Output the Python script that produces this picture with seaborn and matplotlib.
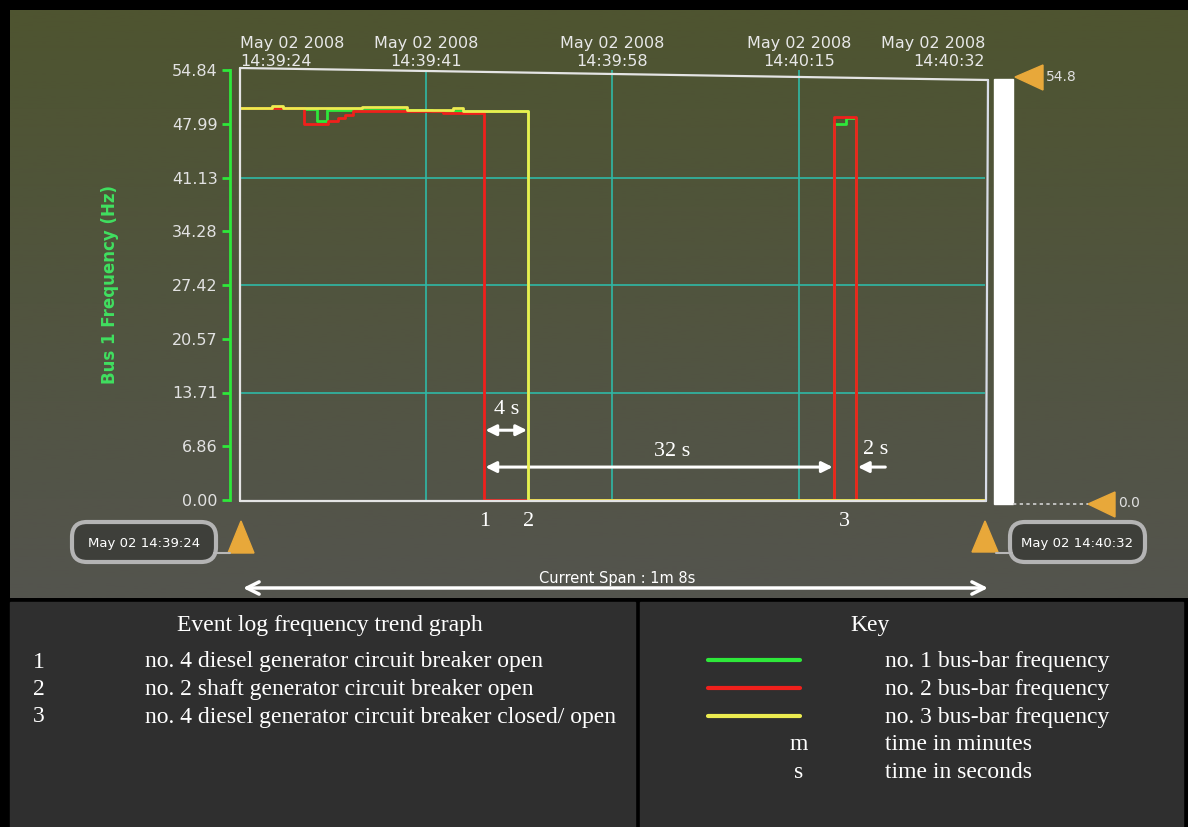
import numpy as np
import matplotlib
matplotlib.use('Agg')
import matplotlib.pyplot as plt
import seaborn as sns
from matplotlib.patches import Rectangle, FancyBboxPatch, Polygon

# bus-bar frequency (Hz), time in seconds after 14:39:24 (step changes)
bus1_t = [0, 5.8, 7.0, 7.9, 17.5, 26.3, 54.2, 55.3, 56.2, 68]
bus1_hz = [50.0, 49.85, 48.35, 49.8, 49.6, 0.0, 47.95, 48.7, 0.0, 0.0]
bus2_t = [0, 5.8, 8.0, 8.9, 9.6, 10.3, 18.5, 22.3, 54.2, 56.2, 68]
bus2_hz = [50.0, 47.95, 48.35, 48.7, 49.1, 49.55, 49.4, 0.0, 48.85, 0.0, 0.0]
bus3_t = [0, 2.9, 3.9, 11.1, 15.2, 19.4, 20.4, 26.3, 68]
bus3_hz = [50.0, 50.25, 50.0, 50.15, 49.75, 50.0, 49.6, 0.0, 0.0]

y_ticks = [0.00, 6.86, 13.71, 20.57, 27.42, 34.28, 41.13, 47.99, 54.84]
time_ticks = [0, 17, 34, 51, 68]
time_labels = ['14:39:24', '14:39:41', '14:39:58', '14:40:15', '14:40:32']
event_labels = ['1', '2', '3']
event_t = [22.3, 26.3, 55.2]
event_text = ['no. 4 diesel generator circuit breaker open',
              'no. 2 shaft generator circuit breaker open',
              'no. 4 diesel generator circuit breaker closed/ open']
key_text = ['no. 1 bus-bar frequency', 'no. 2 bus-bar frequency',
            'no. 3 bus-bar frequency', 'time in minutes', 'time in seconds']

GREEN, RED, YELLOW = '#2ee83a', '#f0201c', '#ecec50'
GRID = '#2fb8a6'
SANS = 'DejaVu Sans'
SERIF = 'Liberation Serif'

sns.set_style('dark')
W, H = 1188, 827
fig = plt.figure(figsize=(W / 100, H / 100), dpi=100, facecolor='black')

# background: photographed screen + table panels
bg = fig.add_axes([0, 0, 1, 1], zorder=0)
bg.set_xlim(0, W)
bg.set_ylim(H, 0)
bg.axis('off')
top_c = np.array([78, 84, 48]) / 255
bot_c = np.array([84, 84, 78]) / 255
v = np.linspace(0, 1, 200)[:, None, None]
grad = top_c * (1 - v) + bot_c * v
bg.imshow(grad, extent=(10, W, 598, 10), aspect='auto', zorder=0)
bg.add_patch(Rectangle((10, 602), 625, 230, color='#2f2f2f', zorder=1))
bg.add_patch(Rectangle((640, 602), 543, 230, color='#2f2f2f', zorder=1))


def px_axes(l, t, r, b, z):
    return fig.add_axes([l / W, 1 - b / H, (r - l) / W, (b - t) / H], zorder=z)


ax = px_axes(240, 70, 985, 500, 1)
ax.set_facecolor('none')
for val in [13.71, 27.42, 41.13]:
    ax.axhline(val, color=GRID, lw=1.2, zorder=1)
for t in time_ticks[1:-1]:
    ax.axvline(t, color=GRID, lw=1.2, zorder=1)

sns.lineplot(x=bus1_t, y=bus1_hz, ax=ax, color=GREEN, lw=2, drawstyle='steps-post',
             estimator=None, sort=False, zorder=3)
sns.lineplot(x=bus2_t, y=bus2_hz, ax=ax, color=RED, lw=2, drawstyle='steps-post',
             estimator=None, sort=False, zorder=4)
sns.lineplot(x=bus3_t, y=bus3_hz, ax=ax, color=YELLOW, lw=2, drawstyle='steps-post',
             estimator=None, sort=False, zorder=5)

ax.set_xlim(0, 68)
ax.set_ylim(0, 54.84)
ax.grid(False)
for s in ['top', 'right', 'bottom']:
    ax.spines[s].set_visible(False)
ax.spines['left'].set_visible(True)
ax.spines['left'].set_color(GREEN)
ax.spines['left'].set_linewidth(2)
ax.spines['left'].set_position(('outward', 7))
ax.set_yticks(y_ticks)
ax.set_yticklabels([f'{y:.2f}' for y in y_ticks])
ax.tick_params(axis='y', colors=GREEN, length=6, width=2, direction='out',
               labelcolor='#e2e2e2', labelsize=11.5, pad=3, left=True)
ax.xaxis.tick_top()
ax.set_xticks(time_ticks)
ax.set_xticklabels([f'May 02 2008\n{lab}' for lab in time_labels])
ax.tick_params(axis='x', length=0, labelcolor='#e8e8e8', labelsize=11.5, pad=1)
xl = ax.get_xticklabels()
xl[0].set_ha('left')
xl[0].set_multialignment('left')
xl[-1].set_ha('right')
xl[-1].set_multialignment('right')
for lab in xl[1:-1]:
    lab.set_multialignment('center')
for lab in ax.get_xticklabels() + ax.get_yticklabels():
    lab.set_fontfamily(SANS)
ax.set_ylabel('Bus 1 Frequency (Hz)', color='#40e060', fontsize=12,
              fontfamily=SANS, fontweight='bold')
ax.yaxis.set_label_coords(-0.163, 0.5)

# event numbers and interval arrows
for lab, t in zip(event_labels, event_t):
    ax.text(t, -2.8, lab, color='white', fontsize=16, fontfamily=SERIF,
            ha='center', va='center', clip_on=False)
arrow_kw = dict(color='white', lw=2.2, mutation_scale=16, shrinkA=0, shrinkB=0)
ax.annotate('', xy=(26.2, 8.9), xytext=(22.4, 8.9), arrowprops=dict(arrowstyle='<|-|>', **arrow_kw))
ax.text(24.3, 11.6, '4 s', color='white', fontsize=16, fontfamily=SERIF, ha='center', va='center')
ax.annotate('', xy=(54.1, 4.2), xytext=(22.4, 4.2), arrowprops=dict(arrowstyle='<|-|>', **arrow_kw))
ax.text(39.4, 6.2, '32 s', color='white', fontsize=16, fontfamily=SERIF, ha='center', va='center')
ax.annotate('', xy=(56.4, 4.2), xytext=(58.9, 4.2), arrowprops=dict(arrowstyle='-|>', **arrow_kw))
ax.text(58.0, 6.5, '2 s', color='white', fontsize=16, fontfamily=SERIF, ha='center', va='center')

# overlay in pixel coordinates for the screen furniture
ov = fig.add_axes([0, 0, 1, 1], zorder=2)
ov.set_xlim(0, W)
ov.set_ylim(H, 0)
ov.axis('off')
ov.set_facecolor('none')
frame = '#e4e4e4'
ov.plot([240, 988], [68, 80], color=frame, lw=1.6)
ov.plot([240, 240], [68, 501], color=frame, lw=1.6)
ov.plot([988, 986], [80, 501], color='#d8dce8', lw=1.6)
ov.plot([240, 986], [501, 501], color=frame, lw=1.6, zorder=1)

# right-hand scale bar
ov.add_patch(Rectangle((994, 79), 19, 425, color='white'))
gold = '#e8a83a'
ov.add_patch(Polygon([[1015, 77], [1043, 65], [1043, 90]], color=gold))
ov.text(1046, 77, '54.8', color='#e0e0e0', fontsize=10, fontfamily=SANS, va='center')
ov.plot([1013, 1088], [504, 504], color='#d0d0d0', lw=1.2, ls=(0, (2, 2)))
ov.add_patch(Polygon([[1088, 504], [1115, 492], [1115, 517]], color=gold))
ov.text(1118, 503, '0.0', color='#e0e0e0', fontsize=10, fontfamily=SANS, va='center')

# cursor triangles and date boxes
ov.add_patch(Polygon([[241, 521], [228, 553], [254, 553]], color=gold))
ov.add_patch(Polygon([[985, 521], [972, 552], [998, 552]], color=gold))
ov.plot([214, 230], [553, 553], color='#b8b8b8', lw=1.5)
ov.plot([996, 1012], [553, 553], color='#b8b8b8', lw=1.5)
for x0, w, lab in [(72, 144, 'May 02 14:39:24'), (1010, 135, 'May 02 14:40:32')]:
    ov.add_patch(FancyBboxPatch((x0, 522), w, 40, boxstyle='round,pad=0,rounding_size=15',
                                facecolor='#3e3f3a', edgecolor='#b4b4b4', lw=3))
    ov.text(x0 + w / 2, 543, lab, color='white', fontsize=9.5, fontfamily=SANS,
            ha='center', va='center')

ov.text(617, 578, 'Current Span : 1m 8s', color='white', fontsize=10.5, fontfamily=SANS,
        ha='center', va='center')
ov.annotate('', xy=(988, 588), xytext=(243, 588),
            arrowprops=dict(arrowstyle='<->', color='white', lw=2.5, mutation_scale=22,
                            shrinkA=0, shrinkB=0))

# bottom tables
txt = dict(color='white', fontsize=17, fontfamily=SERIF, va='center')
ov.text(330, 626, 'Event log frequency trend graph', ha='center', **txt)
for i, (lab, desc) in enumerate(zip(event_labels, event_text)):
    ov.text(33, 662 + 27.5 * i, lab, ha='left', **txt)
    ov.text(145, 662 + 27.5 * i, desc, ha='left', **txt)
ov.text(870, 626, 'Key', ha='center', **txt)
for i, c in enumerate([GREEN, RED, YELLOW]):
    ov.plot([708, 800], [660 + 28 * i, 660 + 28 * i], color=c, lw=3)
for i, desc in enumerate(key_text):
    ov.text(885, 662 + 27.5 * i, desc, ha='left', **txt)
ov.text(799, 745, 'm', ha='center', **txt)
ov.text(799, 773, 's', ha='center', **txt)

fig.savefig('out.png', dpi=100, facecolor=fig.get_facecolor())
